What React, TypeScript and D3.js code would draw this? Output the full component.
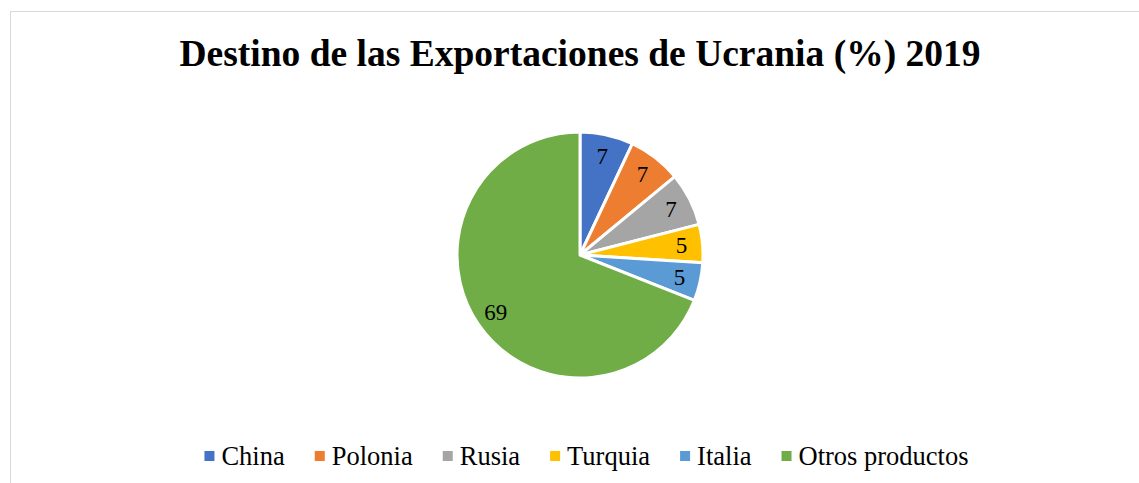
import React, { useEffect, useRef } from 'react';
import * as d3 from 'd3';

const paises = ['China', 'Polonia', 'Rusia', 'Turquia', 'Italia', 'Otros productos'];
const valores = [7, 7, 7, 5, 5, 69];
const colores = ['#4472C4', '#ED7D31', '#A5A5A5', '#FFC000', '#5B9BD5', '#70AD47'];

const W = 1139;
const H = 483;
const font = "'Liberation Serif', 'Times New Roman', serif";

const App = () => {
  const ref = useRef<SVGSVGElement>(null);

  useEffect(() => {
    const svg = d3.select(ref.current);
    svg.selectAll('*').remove();

    // marco del grafico
    svg.append('rect')
      .attr('x', 10.5).attr('y', 11.5)
      .attr('width', W + 20).attr('height', H + 20)
      .attr('fill', '#fff')
      .attr('stroke', '#d9d9d9')
      .attr('stroke-width', 1);

    svg.append('text')
      .attr('x', 580).attr('y', 66)
      .attr('text-anchor', 'middle')
      .attr('font-family', font)
      .attr('font-size', 37.5)
      .attr('font-weight', 'bold')
      .text('Destino de las Exportaciones de Ucrania (%) 2019');

    const cx = 580, cy = 255, r = 123;
    const pie = d3.pie<number>().sort(null).value(d => d);
    const arcs = pie(valores);
    const arc = d3.arc<d3.PieArcDatum<number>>().innerRadius(0).outerRadius(r);
    const labelArc = d3.arc<d3.PieArcDatum<number>>().innerRadius(102).outerRadius(102);

    const g = svg.append('g').attr('transform', `translate(${cx},${cy})`);
    g.selectAll('path')
      .data(arcs)
      .join('path')
      .attr('d', arc)
      .attr('fill', (d, i) => colores[i])
      .attr('stroke', '#fff')
      .attr('stroke-width', 3)
      .attr('stroke-linejoin', 'round');

    g.selectAll('text')
      .data(arcs)
      .join('text')
      .attr('transform', d => `translate(${labelArc.centroid(d)})`)
      .attr('text-anchor', 'middle')
      .attr('dy', '0.35em')
      .attr('font-family', font)
      .attr('font-size', 23)
      .text(d => d.data);

    // leyenda
    const leg = svg.append('g');
    const items = leg.selectAll('g')
      .data(paises)
      .join('g');
    items.append('rect')
      .attr('width', 10).attr('height', 10)
      .attr('y', 451)
      .attr('fill', (d, i) => colores[i]);
    items.append('text')
      .attr('x', 17).attr('y', 465)
      .attr('font-family', font)
      .attr('font-size', 26.5)
      .text(d => d);

    const widths: number[] = [];
    items.select('text').each(function () {
      widths.push((this as SVGTextElement).getComputedTextLength());
    });
    const gap = 30;
    const total = d3.sum(widths, w => 17 + w) + gap * (widths.length - 1);
    let x = 586.5 - total / 2;
    items.attr('transform', (d, i) => {
      const t = `translate(${x},0)`;
      x += 17 + widths[i] + gap;
      return t;
    });
  }, []);

  return (
    <svg ref={ref} width={W} height={H} style={{ position: 'absolute', left: 0, top: 0 }}></svg>
  );
};

export default App;
